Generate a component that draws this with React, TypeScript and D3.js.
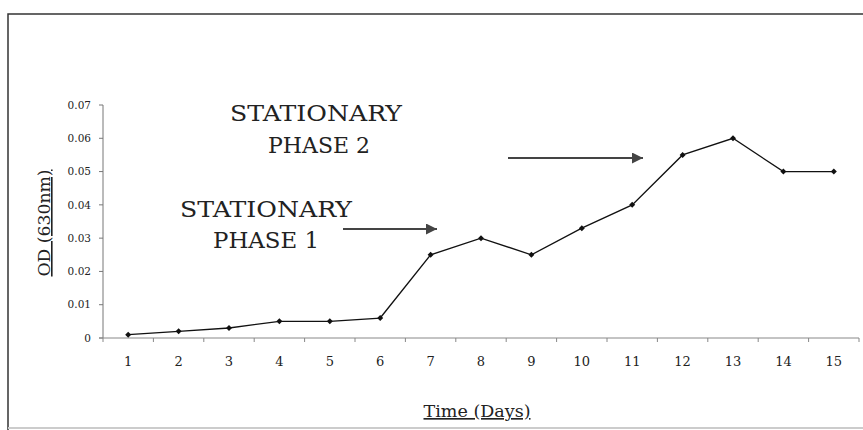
import React from "react";
import * as d3 from "d3";

const days = [1, 2, 3, 4, 5, 6, 7, 8, 9, 10, 11, 12, 13, 14, 15];
const od = [0.001, 0.002, 0.003, 0.005, 0.005, 0.006, 0.025, 0.03, 0.025, 0.033, 0.04, 0.055, 0.06, 0.05, 0.05];
const yTicks = [0, 0.01, 0.02, 0.03, 0.04, 0.05, 0.06, 0.07];
const yTickLabels = ["0", "0.01", "0.02", "0.03", "0.04", "0.05", "0.06", "0.07"];

const W = 863;
const H = 430;
const left = 103;
const right = 859;
const top = 105;
const bottom = 338;
const FONT = "'DejaVu Serif', 'Liberation Serif', serif";

export default function App() {
  const x = d3.scaleBand<number>().domain(days).range([left, right]).paddingInner(0).paddingOuter(0);
  const y = d3.scaleLinear().domain([0, 0.07]).range([bottom, top]);
  const cx = (d: number) => (x(d) as number) + x.bandwidth() / 2;
  const line = d3
    .line<number>()
    .x((_, i) => cx(days[i]))
    .y((d) => y(d));
  const bounds = [...days.map((d) => x(d) as number), right];

  return (
    <svg
      width={W}
      height={H}
      style={{ position: "absolute", left: 0, top: 0, background: "#fff" }}
      fontFamily={FONT}
    >
      <defs>
        <marker id="arr" viewBox="0 0 10 10" refX="10" refY="5" markerWidth="11" markerHeight="11" markerUnits="userSpaceOnUse" orient="auto">
          <path d="M0,0 L10,5 L0,10 Z" fill="#444" />
        </marker>
      </defs>
      <rect x={8} y={14} width={W + 10} height={H + 10} fill="none" stroke="#333" strokeWidth={1.5} />
      <line x1={8} y1={428} x2={W} y2={428} stroke="#ccc" strokeWidth={2} />

      {/* y axis */}
      <line x1={left} y1={top} x2={left} y2={bottom} stroke="#777" strokeWidth={1} />
      {yTicks.map((t, i) => (
        <g key={t}>
          <line x1={left - 4} x2={left} y1={y(t)} y2={y(t)} stroke="#777" />
          <text x={91} y={y(t)} dy="0.35em" textAnchor="end" fontSize={10.5} fill="#222">
            {yTickLabels[i]}
          </text>
        </g>
      ))}

      {/* x axis */}
      <line x1={left - 4} y1={bottom} x2={right} y2={bottom} stroke="#888" strokeWidth={1} />
      {bounds.map((b, i) => (
        <line key={i} x1={b} x2={b} y1={bottom} y2={bottom + 4} stroke="#888" />
      ))}
      {days.map((d) => (
        <text key={d} x={cx(d)} y={366} textAnchor="middle" fontSize={13} fill="#222">
          {d}
        </text>
      ))}

      {/* series */}
      <path d={line(od) || ""} fill="none" stroke="#111" strokeWidth={1.3} />
      {od.map((v, i) => (
        <path
          key={i}
          d={`M${cx(days[i])},${y(v) - 3}L${cx(days[i]) + 3},${y(v)}L${cx(days[i])},${y(v) + 3}L${cx(days[i]) - 3},${y(v)}Z`}
          fill="#111"
        />
      ))}

      {/* axis titles */}
      <text
        transform={`translate(50,223) rotate(-90)`}
        textAnchor="middle"
        fontSize={16}
        fill="#222"
        textDecoration="underline"
        textLength={107}
        lengthAdjust="spacingAndGlyphs"
      >
        OD (630nm)
      </text>
      <text x={477} y={417} textAnchor="middle" fontSize={16.5} fill="#222" textDecoration="underline" textLength={107} lengthAdjust="spacingAndGlyphs">
        Time (Days)
      </text>

      {/* annotations */}
      <g fontSize={22} fill="#222">
        <text x={316} y={121} textAnchor="middle" textLength={172} lengthAdjust="spacingAndGlyphs">STATIONARY</text>
        <text x={319} y={153} textAnchor="middle" textLength={102} lengthAdjust="spacingAndGlyphs">PHASE 2</text>
        <text x={266} y={217} textAnchor="middle" textLength={172} lengthAdjust="spacingAndGlyphs">STATIONARY</text>
        <text x={266} y={248} textAnchor="middle" textLength={106} lengthAdjust="spacingAndGlyphs">PHASE 1</text>
      </g>
      <line x1={343} y1={229} x2={437} y2={229} stroke="#444" strokeWidth={2} markerEnd="url(#arr)" />
      <line x1={508} y1={158} x2={643} y2={158} stroke="#444" strokeWidth={2} markerEnd="url(#arr)" />
    </svg>
  );
}
